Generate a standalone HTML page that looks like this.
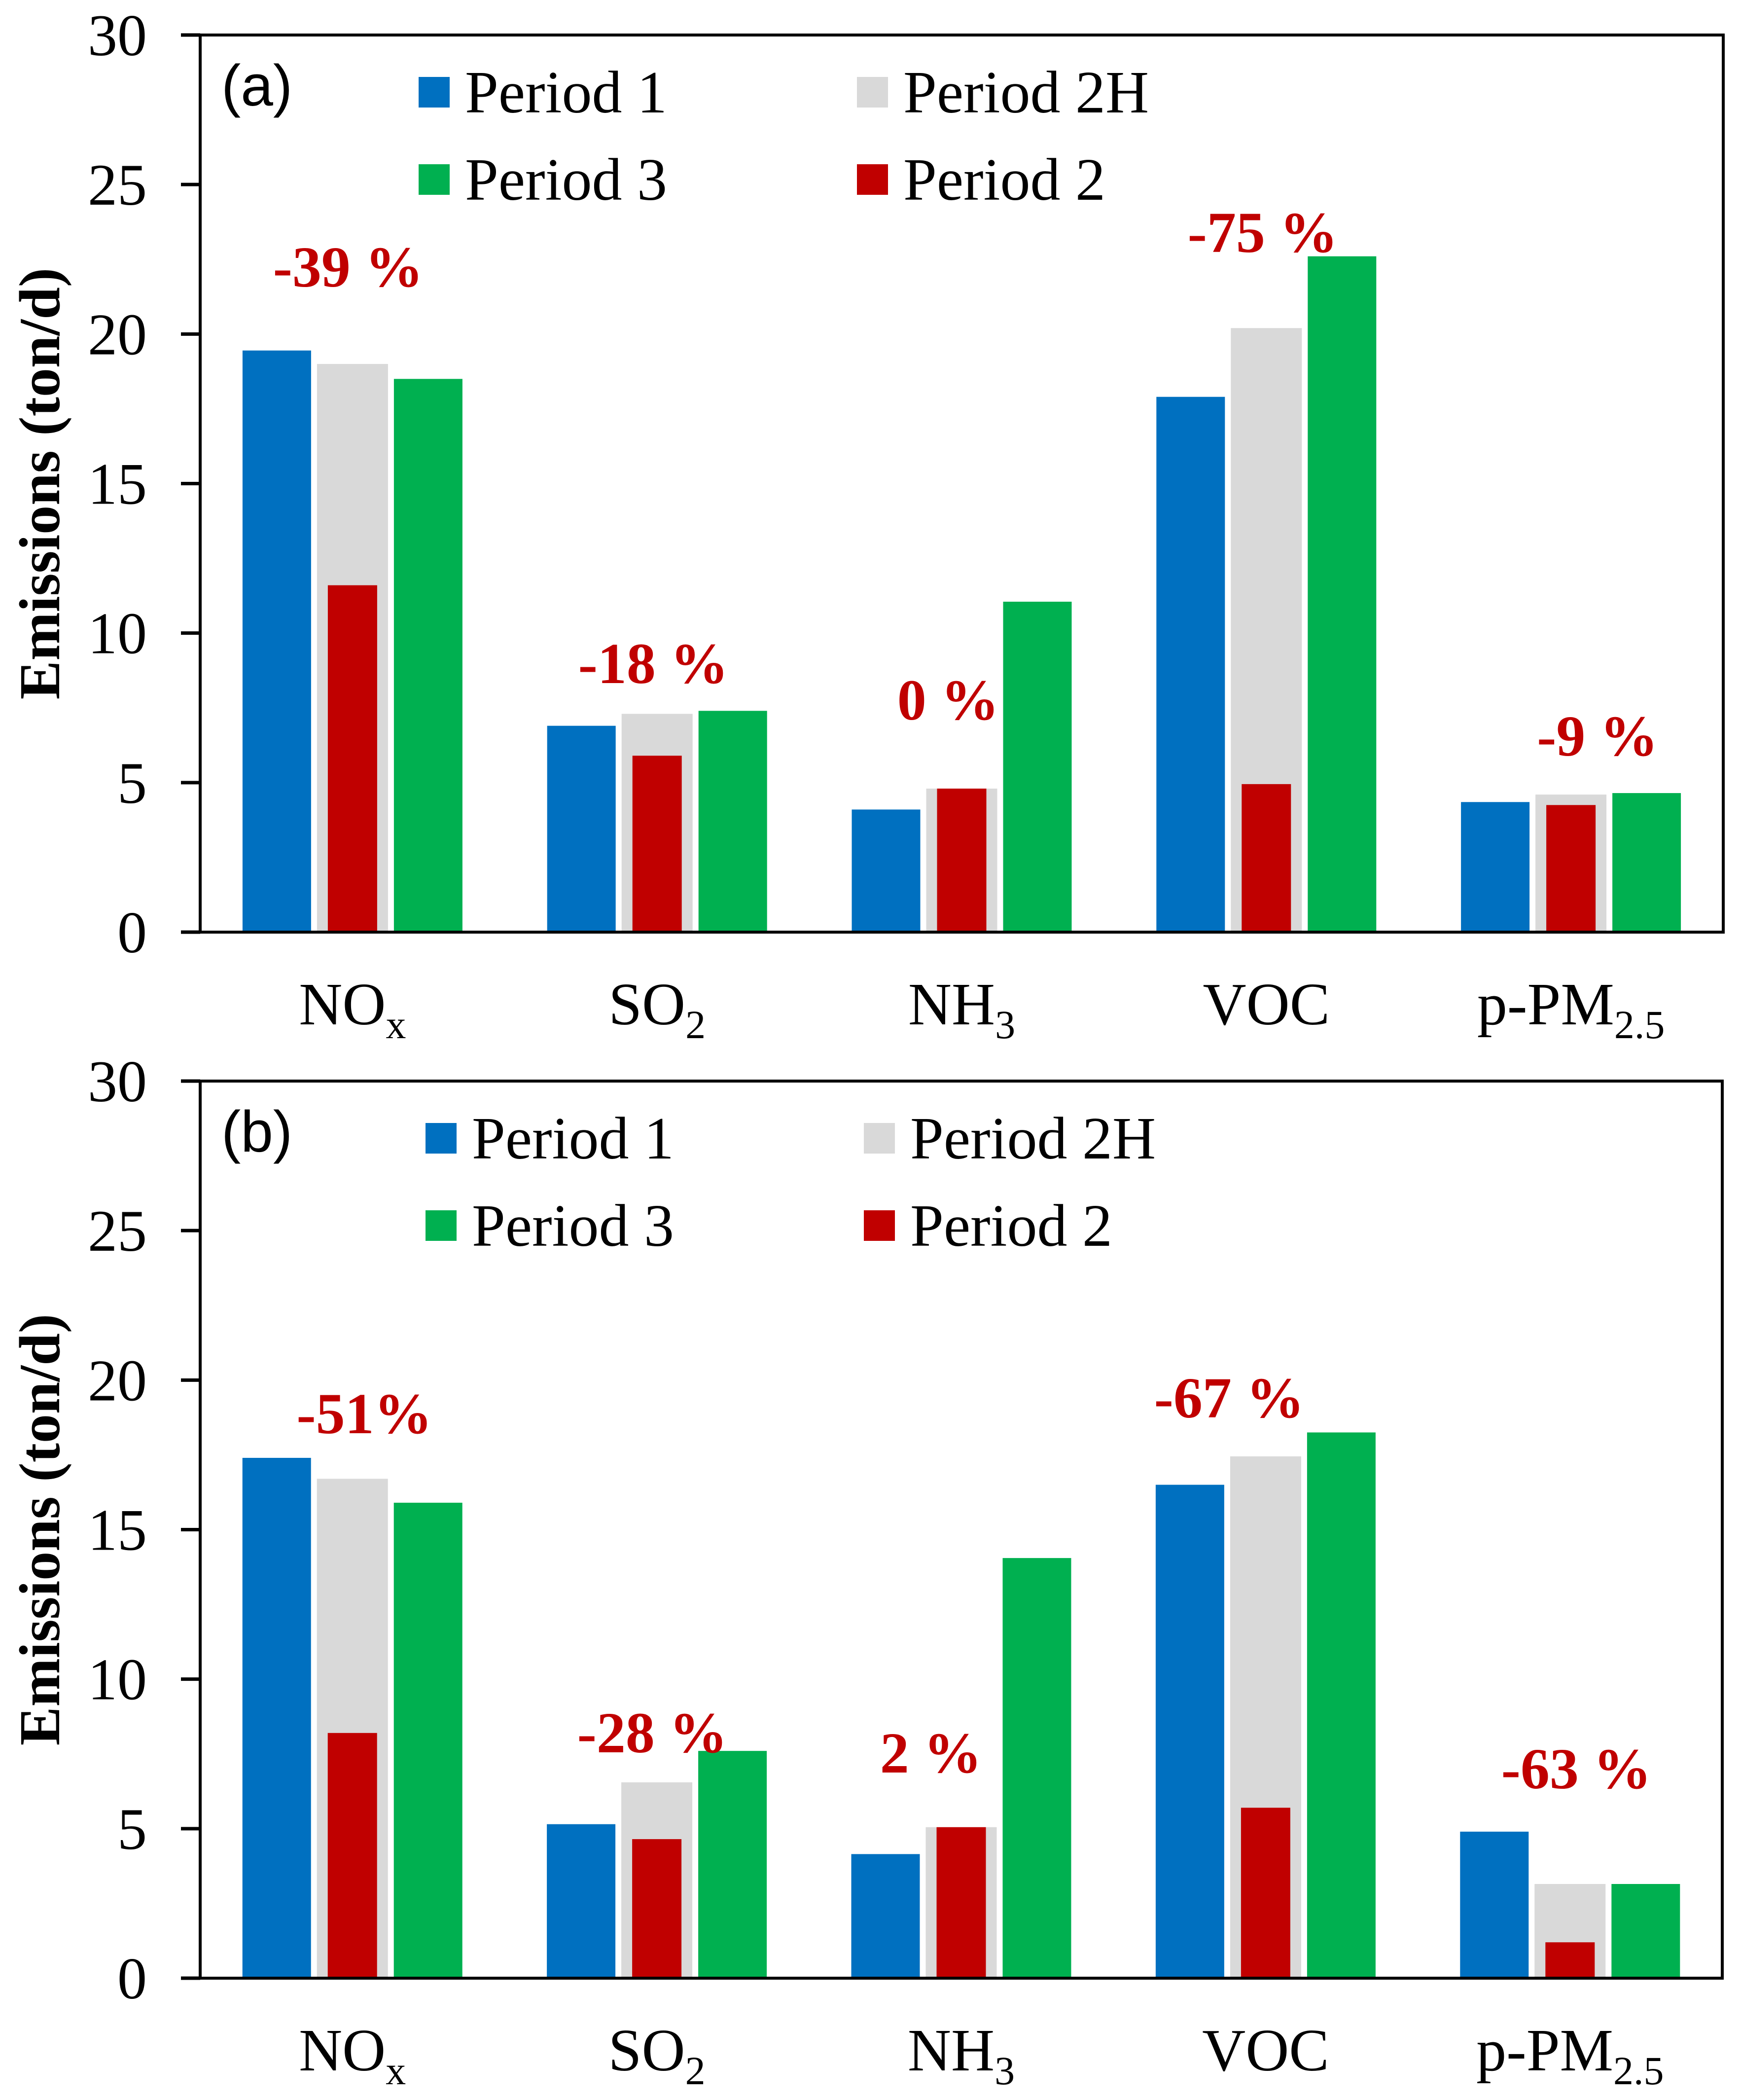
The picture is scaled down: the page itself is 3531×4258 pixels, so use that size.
<!DOCTYPE html>
<html><head><meta charset="utf-8"><style>
html,body{margin:0;padding:0;background:#fff;}
svg{display:block;}
text{font-family:"Liberation Serif","DejaVu Serif",serif;}
</style></head><body>
<svg id="chart" width="3531" height="4258" viewBox="0 0 3531 4258" xmlns="http://www.w3.org/2000/svg"></svg>
<script>
const categories = ["NOx","SO2","NH3","VOC","p-PM2.5"];
const seriesNames = ["Period 1","Period 2H","Period 3","Period 2"];
const yTicks = [0,5,10,15,20,25,30];
const aPeriod1 = [19.45,6.9,4.1,17.9,4.35];
const aPeriod2H = [19.0,7.3,4.8,20.2,4.6];
const aPeriod3 = [18.5,7.4,11.05,22.6,4.65];
const aPeriod2 = [11.6,5.9,4.8,4.95,4.25];
const aChanges = ["-39 %","-18 %","0 %","-75 %","-9 %"];
const bPeriod1 = [17.4,5.15,4.15,16.5,4.9];
const bPeriod2H = [16.7,6.55,5.05,17.45,3.15];
const bPeriod3 = [15.9,7.6,14.05,18.25,3.15];
const bPeriod2 = [8.2,4.65,5.05,5.7,1.2];
const bChanges = ["-51%","-28 %","2 %","-67 %","-63 %"];

const NS="http://www.w3.org/2000/svg";
const svg=document.getElementById('chart');
function mk(tag,attrs,parent,txt){const e=document.createElementNS(NS,tag);for(const k in attrs)e.setAttribute(k,attrs[k]);if(txt!==undefined)e.textContent=txt;(parent||svg).appendChild(e);return e;}
const colors={"Period 1":"#0070C0","Period 2H":"#D9D9D9","Period 3":"#00B050","Period 2":"#C00000"};
const catLabels=[["NO","x"],["SO","2"],["NH","3"],["VOC",""],["p-PM","2.5"]];

function panel(opt){
  const g=mk('g',{});
  
  
  const L=406,R=opt.right,T=opt.top,B=opt.top+1819;
  const y=v=>B-(v/30)*(B-T);
  const cw=(R-L)/categories.length;
  const x=i=>L+cw*(i+0.5);
  const defs=[["Period 1",opt.s[0],-223,139],["Period 2H",opt.s[1],-72,144],["Period 3",opt.s[2],84,139],["Period 2",opt.s[3],-50,100]];
  defs.forEach(d=>{
    d[1].forEach((v,i)=>{
      const r=mk('rect',{x:x(i)+d[2],y:y(v),width:d[3],height:B-y(v),fill:colors[d[0]]},g);
      
      
    });
  });
  const f=mk('rect',{x:L,y:T,width:R-L,height:B-T,fill:'none',stroke:'#000','stroke-width':6},g);
  
  
  yTicks.forEach(t=>{
    const tk=mk('line',{x1:367,x2:L,y1:y(t),y2:y(t),stroke:'#000','stroke-width':7},g);
    
    
    const tl=mk('text',{x:298,y:y(t)+41,'text-anchor':'end','font-size':120},g,String(t));
    
    
  });
  const yt=mk('text',{x:0,y:0,transform:`translate(120 ${(T+B)/2}) rotate(-90)`,'text-anchor':'middle','font-size':118,'font-weight':'bold'},g,'Emissions (ton/d)');
  
  
  catLabels.forEach((c,i)=>{
    const t=mk('text',{x:x(i),y:B+187,'text-anchor':'middle','font-size':122},g);
    
    
    mk('tspan',{},t,c[0]);
    if(c[1]){mk('tspan',{'font-size':82,dy:28},t,c[1]);}
  });
  opt.ann.forEach((a,i)=>{
    const t=mk('text',{x:opt.annX[i],y:opt.annY[i]+41,'text-anchor':'middle','font-size':118,'font-weight':'bold',fill:'#C00000'},g,a);
    
    
  });
  const pl=mk('text',{x:449,y:T+143,'font-size':118,style:'font-family:"Liberation Sans",sans-serif'},g,opt.letter);
  
  
  const lg=[["Period 1",0,0],["Period 2H",1,0],["Period 3",0,1],["Period 2",1,1]];
  lg.forEach(l=>{
    const lx=849+opt.lgdx+l[1]*889, ly=T+85+l[2]*177;
    const e=mk('g',{},g);
    
    
    mk('rect',{x:lx,y:ly,width:63,height:62,fill:colors[l[0]]},e);
    mk('text',{x:lx+94,y:ly+72,'font-size':122},e,l[0]);
  });
}
panel({name:'panel-a',top:71,right:3495,letter:'(a)',s:[aPeriod1,aPeriod2H,aPeriod3,aPeriod2],ann:aChanges,
  annX:[706,1325,1923,2561,3240],annY:[540,1344,1418,470,1491],lgdx:0});
panel({name:'panel-b',top:2192,right:3493,letter:'(b)',s:[bPeriod1,bPeriod2H,bPeriod3,bPeriod2],ann:bChanges,
  annX:[739,1323,1888,2493,3197],annY:[2865,3512,3553,2833,3585],lgdx:14});
</script>
</body></html>
